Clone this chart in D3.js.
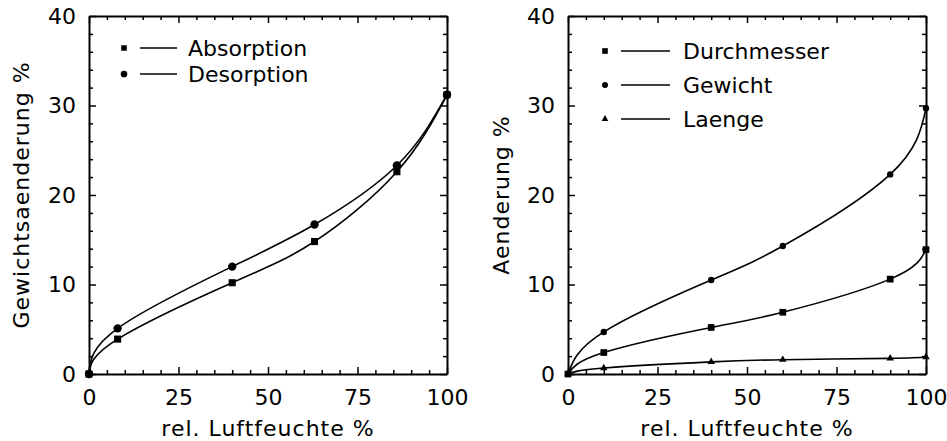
<!DOCTYPE html>
<html>
<head>
<meta charset="utf-8">
<script src="https://cdn.jsdelivr.net/npm/d3@7"></script>
<style>
  body { margin: 0; background: #fff; }
  svg { display: block; }
  text { font-family: "DejaVu Sans", sans-serif; fill: #000; }
</style>
</head>
<body>
<svg id="chart" width="947" height="441"></svg>
<script>
// left panel: sorption isotherm
const humLeft = [0, 8, 40, 63, 86, 100];
const absorption = [0, 3.9, 10.2, 14.8, 22.6, 31.2];
const desorption = [0, 5.1, 12.0, 16.7, 23.3, 31.2];

// right panel: swelling
const humRight = [0, 10, 40, 60, 90, 100];
const durchmesser = [0, 2.4, 5.2, 6.9, 10.6, 13.9];
const gewicht = [0, 4.7, 10.5, 14.3, 22.3, 29.7];
const laenge = [0, 0.67, 1.35, 1.6, 1.75, 1.9];

const xTicks = [0, 25, 50, 75, 100];
const yTicks = [0, 10, 20, 30, 40];

const svg = d3.select("#chart");
const plotTop = 16, plotBottom = 374;

const drawPanel = (cfg) => {
  const x = d3.scaleLinear().domain([0, 100]).range([cfg.left, cfg.right]);
  const y = d3.scaleLinear().domain([0, 40]).range([plotBottom, plotTop]);
  const g = svg.append("g");

  const xMinor = d3.range(0, 101, 5);
  const yMinor = d3.range(0, 41, 2);
  const tickLen = (v, major) => major.includes(v) ? 7 : 4;

  const styleAxis = (sel, horizontal, major, labels) => {
    sel.select(".domain").attr("stroke", "#000").attr("stroke-width", 2);
    sel.selectAll(".tick line")
      .attr("stroke", "#000").attr("stroke-width", 1.5)
      .each(function (d) {
        const l = d3.select(this);
        const sign = +(l.attr(horizontal ? "y2" : "x2")) < 0 ? -1 : 1;
        l.attr(horizontal ? "y2" : "x2", sign * tickLen(d, major));
      });
    sel.selectAll(".tick text")
      .style("font-size", "22px")
      .style("display", d => labels && major.includes(d) ? null : "none");
  };

  g.append("g").attr("transform", `translate(0,${plotBottom})`)
    .call(d3.axisBottom(x).tickValues(xMinor).tickSize(-7).tickSizeOuter(0).tickPadding(15))
    .call(s => styleAxis(s, true, xTicks, true));
  g.append("g").attr("transform", `translate(0,${plotTop})`)
    .call(d3.axisTop(x).tickValues(xMinor).tickSize(-7).tickSizeOuter(0))
    .call(s => styleAxis(s, true, xTicks, false));
  g.append("g").attr("transform", `translate(${cfg.left},0)`)
    .call(d3.axisLeft(y).tickValues(yMinor).tickSize(-7).tickSizeOuter(0).tickPadding(13))
    .call(s => styleAxis(s, false, yTicks, true));
  g.append("g").attr("transform", `translate(${cfg.right},0)`)
    .call(d3.axisRight(y).tickValues(yMinor).tickSize(-7).tickSizeOuter(0))
    .call(s => styleAxis(s, false, yTicks, false));

  // axis titles
  g.append("text")
    .attr("x", (cfg.left + cfg.right) / 2).attr("y", 436)
    .attr("text-anchor", "middle")
    .style("font-size", "22px").style("letter-spacing", "1px")
    .text("rel. Luftfeuchte %");
  g.append("text")
    .attr("transform", `translate(${cfg.yTitleX},${(plotTop + plotBottom) / 2}) rotate(-90)`)
    .attr("text-anchor", "middle")
    .style("font-size", "22px").style("letter-spacing", "1px")
    .text(cfg.yTitle);

  const line = d3.line().curve(d3.curveNatural)
    .x(d => x(d[0])).y(d => y(d[1]));

  cfg.series.forEach((s, i) => {
    const pts = cfg.hum.map((h, j) => [h, s.values[j]]);
    g.append("path").datum(pts)
      .attr("d", line)
      .attr("fill", "none").attr("stroke", "#000").attr("stroke-width", 1.6);
    g.selectAll(null).data(pts).enter().append("path")
      .attr("transform", d => `translate(${x(d[0])},${y(d[1])})`)
      .attr("d", d3.symbol().type(s.symbol).size(s.size))
      .attr("fill", "#000");

    // legend row
    const ly = cfg.legend.y + i * cfg.legend.step;
    g.append("path")
      .attr("transform", `translate(${cfg.legend.mark},${ly})`)
      .attr("d", d3.symbol().type(s.symbol).size(s.legendSize))
      .attr("fill", "#000");
    g.append("line")
      .attr("x1", cfg.legend.line[0]).attr("x2", cfg.legend.line[1])
      .attr("y1", ly).attr("y2", ly)
      .attr("stroke", "#000").attr("stroke-width", 1.5);
    g.append("text")
      .attr("x", cfg.legend.text).attr("y", ly + 8)
      .style("font-size", "22px")
      .text(s.name);
  });
};

drawPanel({
  left: 89, right: 447, yTitleX: 29, yTitle: "Gewichtsaenderung %",
  hum: humLeft,
  legend: { y: 48, step: 26, mark: 124, line: [140, 177], text: 188 },
  series: [
    { name: "Absorption", values: absorption, symbol: d3.symbolSquare, size: 50, legendSize: 30 },
    { name: "Desorption", values: desorption, symbol: d3.symbolCircle, size: 55, legendSize: 35 }
  ]
});

drawPanel({
  left: 568, right: 926, yTitleX: 509, yTitle: "Aenderung %",
  hum: humRight,
  legend: { y: 51, step: 34, mark: 605, line: [621, 670], text: 683 },
  series: [
    { name: "Durchmesser", values: durchmesser, symbol: d3.symbolSquare, size: 45, legendSize: 32 },
    { name: "Gewicht", values: gewicht, symbol: d3.symbolCircle, size: 32, legendSize: 28 },
    { name: "Laenge", values: laenge, symbol: d3.symbolTriangle, size: 24, legendSize: 20 }
  ]
});
</script>
</body>
</html>
